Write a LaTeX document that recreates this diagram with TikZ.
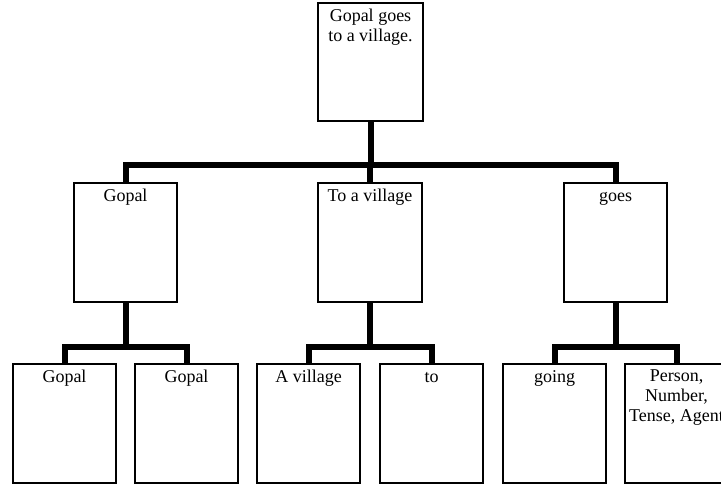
\documentclass[tikz,border=0pt]{standalone}
\usepackage{fontspec}
\setmainfont{Liberation Serif}
\usetikzlibrary{positioning}

\begin{document}
\begin{tikzpicture}[x=0.75pt, y=-0.75pt,
		box/.style={draw, line width=1.5pt, minimum width=77.5pt, minimum height=89pt, inner sep=0pt},
		word/.style={font=\fontsize{13.5}{15}\selectfont, align=center, inner sep=0pt, execute at begin node={\rule{0pt}{9.3pt}}, anchor=north, yshift=-5pt},
		link/.style={line width=4.5pt}]
				\useasboundingbox (0,0) rectangle (721,485);
				% sentence
				\node[box, minimum width=79pt, label={[word]north:Gopal goes\\to a village.}] (sent) at (370.5,62) {};
				% second level
				\node[box, label={[word]north:Gopal}] (gopal) at (125.5,242.5) {};
				\node[box, label={[word]north:To a village}] (village) at (370,242.5) {};
				\node[box, label={[word]north:goes}] (goes) at (615.5,242.5) {};
				% third level
				\node[box, label={[word]north:Gopal}] (gopalA) at (64.5,423.5) {};
				\node[box, label={[word]north:Gopal}] (gopalB) at (186.5,423.5) {};
				\node[box, label={[word]north:A village}] (avillage) at (308.5,423.5) {};
				\node[box, label={[word]north:to}] (to) at (431.5,423.5) {};
				\node[box, label={[word]north:going}] (going) at (554.5,423.5) {};
				\node[box, label={[word]north:Person,\\Number,\\Tense, Agent}] (feat) at (676.5,423.5) {};
				% joints
				\coordinate (j0) at (370,165);
				\coordinate (j1) at (125.5,347);
				\coordinate (j2) at (370,347);
				\coordinate (j3) at (615.5,347);
				% links
				\draw[link] (sent.south) -- (sent.south |- j0);
				\draw[link] (j0) -| (gopal.north);
				\draw[link] (j0) -- (village.north);
				\draw[link] (j0) -| (goes.north);
				\draw[link] (gopal.south) -- (j1);
				\draw[link] (j1) -| (gopalA.north);
				\draw[link] (j1) -| (gopalB.north);
				\draw[link] (village.south) -- (j2);
				\draw[link] (j2) -| (avillage.north);
				\draw[link] (j2) -| (to.north);
				\draw[link] (goes.south) -- (j3);
				\draw[link] (j3) -| (going.north);
				\draw[link] (j3) -| (feat.north);
			\end{tikzpicture}
\end{document}
